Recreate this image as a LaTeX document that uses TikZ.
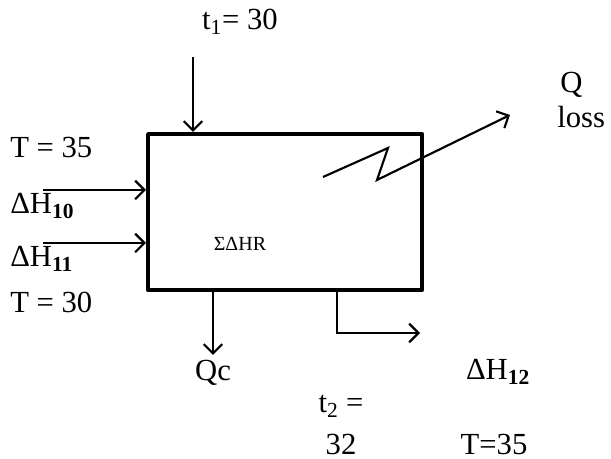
\documentclass[tikz,border=0pt]{standalone}
\usepackage{fontspec}
\setmainfont{Liberation Serif}
\usetikzlibrary{arrows.meta}
\begin{document}
\begin{tikzpicture}[x=0.75pt,y=-0.75pt,
  conn/.style={line width=1.6pt,-{Straight Barb[length=7pt,width=14pt,line width=1.6pt]}},
  lbl/.style={font=\fontsize{23}{25}\selectfont,inner sep=0pt},
  boxst/.style={draw,line width=3.2pt,line join=round}]
\useasboundingbox (0,0) rectangle (611,459);
\node[boxst,minimum width=274*0.75pt,minimum height=156*0.75pt,anchor=north west] (box) at (146,132) {};
\coordinate (topin) at (193,57);
\coordinate (topend) at (193,132);
\draw[conn] (topin) -- (topend);
\node[lbl] (t1) at (240,22) {t\textsubscript{1}= 30};
\coordinate (h10s) at (43,190);
\coordinate (h10e) at (146,190);
\coordinate (h11s) at (43,243);
\coordinate (h11e) at (146,243);
\draw[conn] (h10s) -- (h10e);
\draw[conn] (h11s) -- (h11e);
\node[lbl,anchor=west] (T35) at (10,148) {T = 35};
\node[lbl,anchor=west] (H10) at (10,206) {ΔH\textsubscript{\textbf{10}}};
\node[lbl,anchor=west] (H11) at (10,259) {ΔH\textsubscript{\textbf{11}}};
\node[lbl,anchor=west] (T30) at (10,302) {T = 30};
\node[font=\fontsize{15}{17}\selectfont,inner sep=0pt] (sum) at (240,244) {ΣΔHR};
\coordinate (qcs) at (213,288);
\coordinate (qce) at (213,355);
\draw[conn] (qcs) -- (qce);
\node[lbl] (qc) at (213,373) {Qc};
\coordinate (o1) at (337,288);
\coordinate (o2) at (337,333);
\coordinate (o3) at (420,333);
\draw[conn] (o1) -- (o2) -- (o3);
\node[lbl] (H12) at (498,372) {ΔH\textsubscript{\textbf{12}}};
\node[lbl] (t2) at (341,406) {t\textsubscript{2} =};
\node[lbl] (v32) at (341,444) {32};
\node[lbl] (T35b) at (494,444) {T=35};
\coordinate (z1) at (323,177);
\coordinate (z2) at (388,148);
\coordinate (z3) at (377,180);
\coordinate (z4) at (510,115);
\draw[conn] (z1) -- (z2) -- (z3) -- (z4);
\node[lbl,anchor=west] (Q) at (560,85) {Q};
\node[lbl,anchor=west] (loss) at (557,117) {loss};
\end{tikzpicture}
\end{document}
